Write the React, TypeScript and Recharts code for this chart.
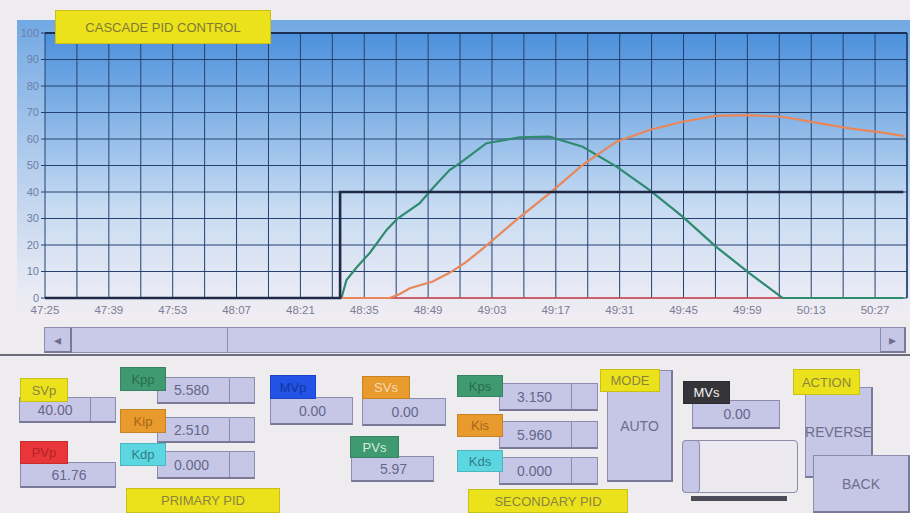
import { CartesianGrid, Line, LineChart, ReferenceLine, XAxis, YAxis } from "recharts";

// seconds after 47:25, one grid column every 7 s, a label every 14 s
const TICK_SECONDS = [0, 7, 14, 21, 28, 35, 42, 49, 56, 63, 70, 77, 84, 91, 98, 105, 112, 119, 126, 133, 140, 147, 154, 161, 168, 175, 182];
const TIME_LABELS = ["47:25", "47:39", "47:53", "48:07", "48:21", "48:35", "48:49", "49:03", "49:17", "49:31", "49:45", "49:59", "50:13", "50:27"];
const Y_TICKS = [0, 10, 20, 30, 40, 50, 60, 70, 80, 90, 100];
const X_END = 189;

// primary setpoint
const SP_TIME = [0, 64.7, 64.7, 188.2];
const SP_VALUE = [0, 0, 40, 40];

// secondary loop (green)
const PVS_TIME = [65.0, 66.1, 68.4, 71.2, 74.9, 77.3, 82.1, 85.0, 88.7, 90.9, 96.8, 104.1, 110.6, 117.9, 125.3, 132.5, 139.8, 147.1, 154.5, 161.7, 188.2];
const PVS_VALUE = [0, 6.8, 11.7, 17, 25.7, 30, 35.7, 41.4, 48.3, 50.8, 58.4, 60.6, 60.9, 57.1, 49.6, 40.8, 30.7, 19.4, 9.3, 0, 0];

// primary process value (orange)
const PVP_TIME = [65.0, 75.6, 77.8, 80.0, 85.0, 88.7, 92.3, 96.1, 103.3, 110.6, 117.9, 125.3, 132.5, 139.8, 147.1, 154.5, 161.7, 169.0, 176.4, 183.7, 188.4];
const PVP_VALUE = [0, 0, 1.5, 3.7, 6.2, 9.5, 13.5, 18.8, 29.4, 39.5, 50.2, 59, 63.4, 66.5, 68.7, 69, 68.4, 66.2, 64, 62.4, 61.1];

// manipulated value (red, stays at 0)
const MV_TIME = [0, 188.2];
const MV_VALUE = [0, 0];

const pairs = (time: number[], value: number[]) => time.map((t, i) => ({ t, v: value[i] }));

const FONT = "'Liberation Sans', Arial, sans-serif";
const LAVENDER = "#c6c6e6";
const EDGE = "#8c8cac";

function Tag({ x, y, w, h, bg, color, text }: { x: number; y: number; w: number; h: number; bg: string; color: string; text: string }) {
  return (
    <div
      style={{
        position: "absolute",
        left: x,
        top: y,
        width: w,
        height: h,
        background: bg,
        color,
        fontSize: 13,
        display: "flex",
        alignItems: "center",
        justifyContent: "center",
        boxSizing: "border-box",
        border: "1px solid rgba(0,0,0,0.15)",
      }}
    >
      {text}
    </div>
  );
}

function Field({ x, y, w, h, text, split, pad }: { x: number; y: number; w: number; h: number; text: string; split?: number; pad?: number }) {
  return (
    <div
      style={{
        position: "absolute",
        left: x,
        top: y,
        width: w,
        height: h,
        background: LAVENDER,
        border: `1px solid ${EDGE}`,
        borderBottom: "2px solid #7a7a98",
        boxSizing: "border-box",
        color: "#66668a",
        fontSize: 14,
      }}
    >
      <div
        style={{
          position: "absolute",
          left: 0,
          top: 0,
          bottom: 0,
          width: split ?? w,
          display: "flex",
          alignItems: "center",
          justifyContent: pad != null ? "flex-start" : "center",
          paddingLeft: pad ?? 0,
          boxSizing: "border-box",
        }}
      >
        {text}
      </div>
      {split != null && (
        <div style={{ position: "absolute", left: split, top: 0, bottom: 0, width: 1, background: EDGE }} />
      )}
    </div>
  );
}

function Button({ x, y, w, h, text }: { x: number; y: number; w: number; h: number; text: string }) {
  return (
    <div
      style={{
        position: "absolute",
        left: x,
        top: y,
        width: w,
        height: h,
        background: LAVENDER,
        border: `1px solid ${EDGE}`,
        borderRight: "2px solid #7a7a98",
        borderBottom: "2px solid #7a7a98",
        boxSizing: "border-box",
        color: "#6e6e8c",
        fontSize: 14,
        display: "flex",
        alignItems: "center",
        justifyContent: "center",
      }}
    >
      {text}
    </div>
  );
}

export default function App() {
  const sp = pairs(SP_TIME, SP_VALUE);
  const pvs = pairs(PVS_TIME, PVS_VALUE);
  const pvp = pairs(PVP_TIME, PVP_VALUE);
  const mv = pairs(MV_TIME, MV_VALUE);

  return (
    <div
      style={{
        position: "absolute",
        left: 0,
        top: 0,
        width: 910,
        height: 513,
        overflow: "hidden",
        background: "#efecf0",
        fontFamily: FONT,
      }}
    >
      {/* trend frame */}
      <div
        style={{
          position: "absolute",
          left: 17,
          top: 20,
          width: 893,
          height: 300,
          background: "linear-gradient(#72a9e4 0%, #afcbec 45%, #e6e9f4 88%, #f1edf2 100%)",
        }}
      />
      <div
        style={{
          position: "absolute",
          left: 45,
          top: 33,
          width: 862,
          height: 265,
          background: "linear-gradient(#4c90dc 0%, #8cb8e8 35%, #c6dbf2 65%, #ebebf5 100%)",
        }}
      />
      <div style={{ position: "absolute", left: 0, top: 0 }}>
        <LineChart width={910} height={325} margin={{ top: 33, right: 3, left: 15, bottom: 7 }}>
          <CartesianGrid stroke="#24416f" strokeWidth={1} fill="none" />
          <XAxis
            type="number"
            dataKey="t"
            domain={[0, X_END]}
            ticks={TICK_SECONDS}
            interval={0}
            allowDataOverflow
            tickFormatter={(v: number) => (v % 14 === 0 ? TIME_LABELS[v / 14] : "")}
            tick={{ fill: "#7c7c94", fontSize: 11.5 }}
            tickLine={false}
            axisLine={false}
            height={20}
          />
          <YAxis
            type="number"
            domain={[0, 100]}
            ticks={Y_TICKS}
            interval={0}
            width={30}
            tick={{ fill: "#6b7fa6", fontSize: 11 }}
            tickSize={4}
            tickLine={{ stroke: "#24416f" }}
            axisLine={false}
          />
          <ReferenceLine x={X_END} stroke="#24416f" strokeWidth={1.5} />
          <ReferenceLine y={100} stroke="#1c2f55" strokeWidth={2} />
          <Line data={mv} dataKey="v" type="linear" stroke="#e0505a" strokeWidth={1.5} dot={false} isAnimationActive={false} />
          <Line data={pvs} dataKey="v" type="linear" stroke="#2f8a70" strokeWidth={2.2} dot={false} isAnimationActive={false} />
          <Line data={pvp} dataKey="v" type="linear" stroke="#e8885a" strokeWidth={2.2} dot={false} isAnimationActive={false} />
          <Line data={sp} dataKey="v" type="linear" stroke="#1d2946" strokeWidth={2.6} dot={false} isAnimationActive={false} />
        </LineChart>
      </div>
      <Tag x={55} y={10} w={216} h={34} bg="#ece21c" color="#7c7a34" text="CASCADE PID CONTROL" />

      {/* scroll bar */}
      <div style={{ position: "absolute", left: 44, top: 327, width: 862, height: 26, background: "#c9c9e8", border: `1px solid ${EDGE}`, boxSizing: "border-box" }} />
      <div style={{ position: "absolute", left: 227, top: 327, width: 1, height: 26, background: EDGE }} />
      <Button x={44} y={327} w={28} h={26} text="◂" />
      <Button x={880} y={327} w={26} h={26} text="▸" />
      <div style={{ position: "absolute", left: 0, top: 354, width: 910, height: 2, background: "#6c6c7a" }} />

      {/* primary PID */}
      <Field x={19} y={397} w={97} h={26} text="40.00" split={70} />
      <Field x={20} y={462} w={96} h={26} text="61.76" />
      <Field x={157} y={377} w={98} h={27} text="5.580" split={71} pad={16} />
      <Field x={157} y={417} w={98} h={26} text="2.510" split={71} pad={16} />
      <Field x={157} y={451} w={98} h={28} text="0.000" split={71} pad={16} />
      <Tag x={20} y={378} w={48} h={24} bg="#ece21c" color="#8a8440" text="SVp" />
      <Tag x={20} y={441} w={48} h={23} bg="#e8363a" color="#b22428" text="PVp" />
      <Tag x={120} y={367} w={46} h={24} bg="#3f9a72" color="#2b6b50" text="Kpp" />
      <Tag x={120} y={409} w={46} h={24} bg="#e89a2c" color="#a5661a" text="Kip" />
      <Tag x={120} y={443} w={46} h={23} bg="#5cd6e0" color="#2f7e8c" text="Kdp" />
      <Tag x={126} y={488} w={154} h={25} bg="#ece21c" color="#8a8440" text="PRIMARY PID" />

      {/* MVp / SVs / PVs */}
      <Field x={270} y={397} w={83} h={28} text="0.00" />
      <Field x={362} y={398} w={84} h={28} text="0.00" />
      <Field x={351} y={456} w={83} h={26} text="5.97" />
      <Tag x={270} y={375} w={46} h={24} bg="#2352e6" color="#13349e" text="MVp" />
      <Tag x={362} y={376} w={48} h={23} bg="#e89a2c" color="#f3dcbc" text="SVs" />
      <Tag x={350} y={436} w={49} h={22} bg="#3f9a72" color="#d6ecdf" text="PVs" />

      {/* secondary PID */}
      <Field x={499} y={383} w={99} h={28} text="3.150" split={71} pad={17} />
      <Field x={499} y={421} w={99} h={28} text="5.960" split={71} pad={17} />
      <Field x={499} y={457} w={99} h={28} text="0.000" split={71} pad={17} />
      <Tag x={457} y={375} w={46} h={22} bg="#3f9a72" color="#2b6b50" text="Kps" />
      <Tag x={457} y={414} w={46} h={23} bg="#e89a2c" color="#a5661a" text="Kis" />
      <Tag x={457} y={450} w={46} h={22} bg="#5cd6e0" color="#2f7e8c" text="Kds" />
      <Tag x={468} y={489} w={160} h={24} bg="#ece21c" color="#8a8440" text="SECONDARY PID" />

      {/* mode / MVs / action */}
      <Button x={607} y={370} w={66} h={112} text="AUTO" />
      <Tag x={600} y={369} w={60} h={23} bg="#ece21c" color="#8a8440" text="MODE" />
      <Field x={692} y={400} w={88} h={29} text="0.00" />
      <Tag x={683} y={381} w={47} h={23} bg="#343439" color="#f4f4f4" text="MVs" />
      <div style={{ position: "absolute", left: 682, top: 440, width: 116, height: 53, background: "#ece9f1", border: `1px solid ${EDGE}`, borderRadius: 4, boxSizing: "border-box" }} />
      <div style={{ position: "absolute", left: 682, top: 440, width: 18, height: 53, background: LAVENDER, border: `1px solid ${EDGE}`, borderRadius: 4, boxSizing: "border-box" }} />
      <div style={{ position: "absolute", left: 691, top: 496, width: 96, height: 5, background: "#4c4c5a" }} />
      <Button x={805} y={387} w={68} h={91} text="REVERSE" />
      <Tag x={793} y={369} w={67} h={26} bg="#ece21c" color="#8a8440" text="ACTION" />
      <Button x={813} y={455} w={97} h={58} text="BACK" />
    </div>
  );
}
